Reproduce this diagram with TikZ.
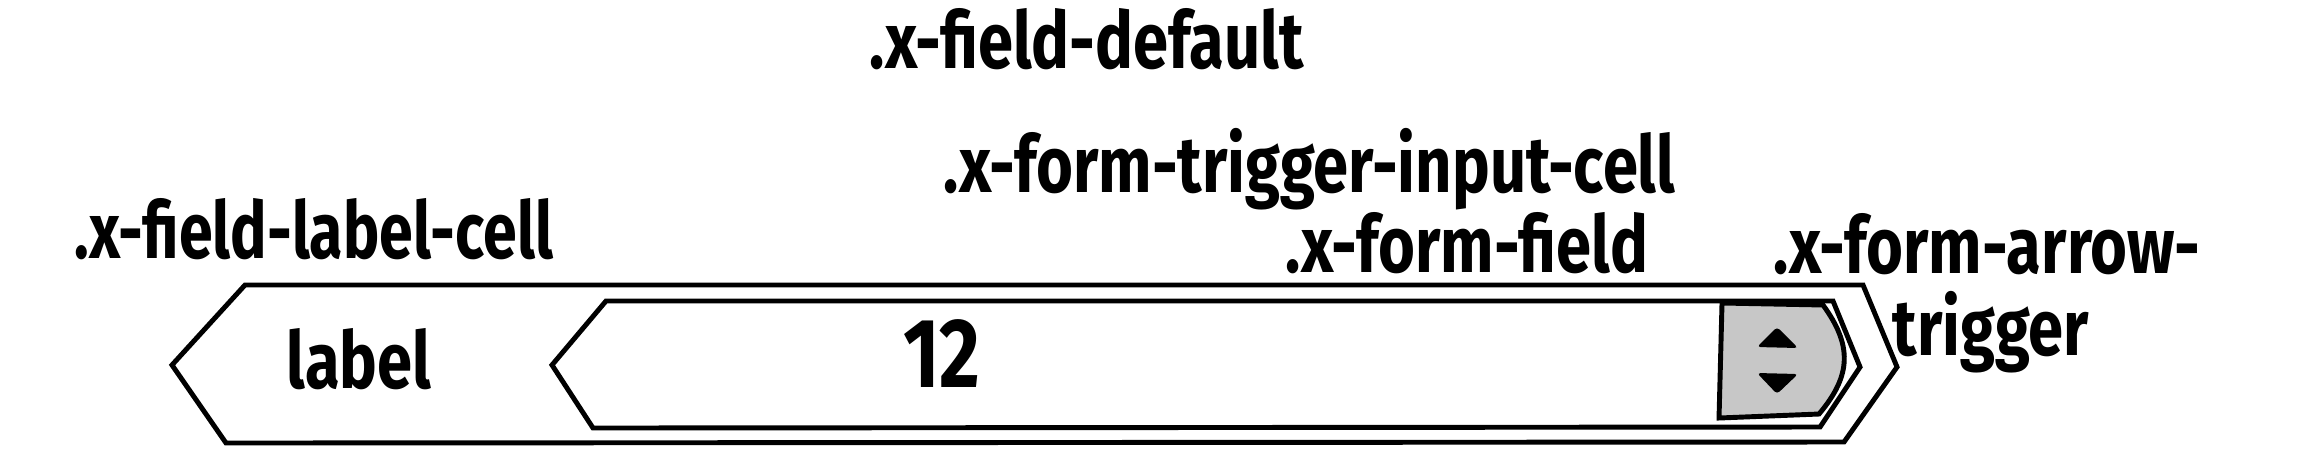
\documentclass[tikz,border=0pt]{standalone}
\usepackage{fontspec}
\setmainfont{Fira Sans}[BoldFont=* Bold, FakeStretch=0.8]

\begin{document}
\begin{tikzpicture}[x=0.01cm,y=-0.01cm,
  txt/.style={anchor=base west,inner sep=0pt,font=\fontsize{22.5}{24}\selectfont\bfseries},
  cell/.style={line width=1.4pt,line join=miter}]
\useasboundingbox (0,0) rectangle (2304,454);

\draw[cell] (245,285) -- (1863,285) -- (1897,367) -- (1844,442) -- (226,443) -- (172,365) -- cycle;
\draw[cell] (606,301) -- (1833,301) -- (1860,367) -- (1820,427) -- (593,428) -- (552,365) -- cycle;

\draw[cell,fill=black!22] (1722,303) -- (1823,305) .. controls (1852,345) and (1852,375) .. (1819,414) -- (1719,418) -- cycle;
\fill[rounded corners=1pt] (1777,327) -- (1798,348) -- (1757,347) -- cycle;
\fill[rounded corners=1pt] (1757,373) -- (1798,374) -- (1777,394) -- cycle;

\node[txt] (default) at (869,68) {.x-field-default};
\node[txt] (triggercell) at (943,192) {.x-form-trigger-input-cell};
\node[txt] (formfield) at (1285,272) {.x-form-field};
\node[txt] (labelcell) at (74,258) {\addfontfeature{FakeStretch=0.77}.x-field-label-cell};
\node[txt] (arrowtrig) at (1773,273) {.x-form-arrow-};
\node[txt] (arrowtrig2) at (1892,355) {trigger};
\node[txt] (labeltext) at (286,388) {label};
\node[txt,anchor=base,font=\fontsize{28}{30}\selectfont\bfseries] (value) at (942,387) {12};
\end{tikzpicture}
\end{document}
